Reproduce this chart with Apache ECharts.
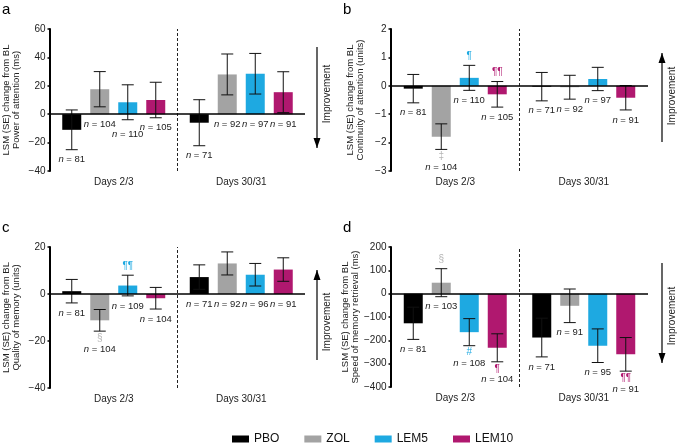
<!DOCTYPE html>
<html>
<head>
<meta charset="utf-8">
<script src="https://cdn.jsdelivr.net/npm/echarts@6/dist/echarts.min.js"></script>
<style>
html, body { margin: 0; padding: 0; background: #fff; }
#chart { width: 677px; height: 444px; }
</style>
</head>
<body>
<div id="chart"></div>
<script>
var groups = ['Days 2/3', 'Days 30/31'];
var treatments = ['PBO', 'ZOL', 'LEM5', 'LEM10'];
var colors = ['#000000', '#a3a3a3', '#1ea9e1', '#b0186f'];
var symColors = ['#000000', '#b4b4b4', '#1ea9e1', '#b0186f'];

// rows = treatment (PBO, ZOL, LEM5, LEM10), columns = group (Days 2/3, Days 30/31)
// a: power of attention
var aMean = [[-11, -6], [17.6, 28], [8.4, 28.5], [10, 15.5]];
var aSE = [[14, 16.2], [12.4, 14.4], [12.3, 14.3], [12.5, 14.4]];
var aN = [[81, 71], [104, 92], [110, 97], [105, 91]];
var aSym = [['', ''], ['', ''], ['', ''], ['', '']];
var aTicks = [-40, 60, 20];

// b: continuity of attention
var bMean = [[-0.1, -0.03], [-1.79, -0.05], [0.28, 0.24], [-0.3, -0.42]];
var bSE = [[0.5, 0.5], [0.45, 0.42], [0.44, 0.41], [0.45, 0.43]];
var bN = [[81, 71], [104, 92], [110, 97], [105, 91]];
var bSym = [['', ''], ['‡', ''], ['¶', ''], ['¶¶', '']];
var bTicks = [-3, 2, 1];

// c: quality of memory
var cMean = [[1.2, 7.2], [-11.2, 13], [3.6, 8.2], [-1.8, 10.4]];
var cSE = [[5, 5.2], [4.6, 4.9], [4.4, 4.8], [4.6, 5]];
var cN = [[81, 71], [104, 92], [109, 96], [104, 91]];
var cSym = [['', ''], ['§', ''], ['¶¶', ''], ['', '']];
var cTicks = [-40, 20, 20];

// d: speed of memory retrieval
var dMean = [[-127, -188], [47, -52], [-165, -223], [-232, -260]];
var dSE = [[69, 83], [60, 72], [58, 72], [60, 72]];
var dN = [[81, 71], [103, 91], [108, 95], [104, 91]];
var dSym = [['', ''], ['§', ''], ['#', ''], ['¶', '¶¶']];
var dTicks = [-400, 200, 100];

var FONT = '"Liberation Sans", Arial, Helvetica, sans-serif';
var BAR_W = 19, BAR_GAP = 9;

var panels = [
    { letter: 'a', name: 'LSM (SE) change from BL\nPower of attention (ms)', mean: aMean, se: aSE, n: aN, sym: aSym, ticks: aTicks, up: false,
      grid: { left: 50, top: 29, width: 255, height: 142 }, gap: 29, arrow: [317, 47, 148, 94] },
    { letter: 'b', name: 'LSM (SE) change from BL\nContinuity of attention (units)', mean: bMean, se: bSE, n: bN, sym: bSym, ticks: bTicks, up: true,
      grid: { left: 391, top: 29, width: 257, height: 142 }, gap: 26, arrow: [662, 53, 142, 96] },
    { letter: 'c', name: 'LSM (SE) change from BL\nQuality of memory (units)', mean: cMean, se: cSE, n: cN, sym: cSym, ticks: cTicks, up: true,
      grid: { left: 50, top: 247, width: 255, height: 141 }, gap: 29, arrow: [317, 270, 360, 322] },
    { letter: 'd', name: 'LSM (SE) change from BL\nSpeed of memory retrieval (ms)', mean: dMean, se: dSE, n: dN, sym: dSym, ticks: dTicks, up: false,
      grid: { left: 391, top: 247, width: 257, height: 140 }, gap: 26, arrow: [662, 263, 363, 316] }
];

var ctx = document.createElement('canvas').getContext('2d');
ctx.font = '9.5px ' + FONT;
function textW(s) { return ctx.measureText(s).width; }

function minus(v) { return String(v).replace('-', '\u2212'); }

// error bars, n labels and significance symbols
function makeRender(p) {
    var placed = [];
    return function (params, api) {
        var g = api.value(0), t = api.value(1), m = api.value(2), se = api.value(3);
        if (t === 0) placed = [];
        var n = p.n[t][g], sym = p.sym[t][g];
        var c0 = api.coord([g, 0]);
        var x = c0[0] + (t - 1.5) * (BAR_W + BAR_GAP);
        var yHi = api.coord([g, m + se])[1];
        var yLo = api.coord([g, m - se])[1];
        var y0 = c0[1];
        var cap = 6;
        var ls = { stroke: '#111', lineWidth: 1 };
        var kids = [
            { type: 'line', shape: { x1: x, y1: yHi, x2: x, y2: yLo }, style: ls },
            { type: 'line', shape: { x1: x - cap, y1: yHi, x2: x + cap, y2: yHi }, style: ls },
            { type: 'line', shape: { x1: x - cap, y1: yLo, x2: x + cap, y2: yLo }, style: ls }
        ];
        var anchor = Math.max(y0, yLo);
        var labelY = anchor + 10;
        if (sym) {
            var sy;
            if (m + se > 0) {
                sy = yHi - 9;
            } else {
                sy = anchor + 7;
                labelY = anchor + 18;
            }
            kids.push({ type: 'text', x: x, y: sy, style: {
                text: sym, fill: symColors[t], fontSize: 10, fontFamily: FONT,
                align: 'center', verticalAlign: 'middle' } });
        }
        var txt = 'n = ' + n;
        var w = textW(txt);
        var prev = placed[t - 1];
        var pushed = false;
        if (prev && !prev.pushed && Math.abs(prev.x - x) < (prev.w + w) / 2 && Math.abs(prev.y - labelY) < 10) {
            labelY = prev.y + 10;
            pushed = true;
        }
        placed[t] = { x: x, y: labelY, w: w, pushed: pushed };
        kids.push({ type: 'text', x: x, y: labelY, style: {
            text: '{i|n} = ' + n, fill: '#222', fontSize: 9.5, fontFamily: FONT,
            align: 'center', verticalAlign: 'middle',
            rich: { i: { fontStyle: 'italic', fontSize: 9.5, fontFamily: FONT, fill: '#222' } } } });
        return { type: 'group', children: kids };
    };
}

var grids = [], xAxes = [], yAxes = [], series = [], graphics = [];

panels.forEach(function (p, k) {
    grids.push(p.grid);
    xAxes.push({
        type: 'category', gridIndex: k, data: groups, boundaryGap: true,
        axisLine: { show: false, onZero: false }, axisTick: { show: false },
        axisLabel: { margin: 6, fontSize: 10, color: '#222', fontFamily: FONT }
    });
    xAxes.push({ type: 'value', gridIndex: k, min: 0, max: 2, show: false });
    yAxes.push({
        type: 'value', gridIndex: k, min: p.ticks[0], max: p.ticks[1], interval: p.ticks[2],
        name: p.name, nameLocation: 'middle', nameRotate: 90, nameGap: p.gap,
        nameTextStyle: { fontSize: 9.5, lineHeight: 10, color: '#222', fontFamily: FONT },
        axisLine: { show: true, lineStyle: { color: '#000', width: 2 } },
        axisTick: { show: true, length: 2.5, lineStyle: { color: '#000', width: 1.5 } },
        axisLabel: { margin: 4.5, fontSize: 10, color: '#222', fontFamily: FONT, formatter: minus },
        splitLine: { show: false }
    });

    treatments.forEach(function (tr, t) {
        series.push({
            name: tr, type: 'bar', xAxisIndex: 2 * k, yAxisIndex: k,
            data: p.mean[t], barWidth: BAR_W, barGap: (BAR_GAP / BAR_W * 100) + '%',
            itemStyle: { color: colors[t] }, silent: true, z: 2
        });
    });

    var errData = [];
    groups.forEach(function (gname, g) {
        treatments.forEach(function (tr, t) {
            errData.push([g, t, p.mean[t][g], p.se[t][g]]);
        });
    });
    series.push({
        type: 'custom', xAxisIndex: 2 * k, yAxisIndex: k, data: errData,
        renderItem: makeRender(p), silent: true, z: 4
    });

    // zero line and dashed divider between the two periods
    series.push({
        type: 'line', xAxisIndex: 2 * k + 1, yAxisIndex: k, data: [[1, 0]],
        symbol: 'none', silent: true, z: 5, lineStyle: { opacity: 0 },
        markLine: {
            silent: true, symbol: ['none', 'none'], label: { show: false },
            data: [
                { xAxis: 1, lineStyle: { type: [3, 2], width: 1, color: '#222' } },
                { yAxis: 0, lineStyle: { type: 'solid', width: 1.5, color: '#000' } }
            ]
        }
    });

    // panel letter
    var gr = p.grid;
    graphics.push({ type: 'text', x: gr.left - 48, y: gr.top - 27,
        style: { text: p.letter, fontSize: 15, fontFamily: FONT, fill: '#000' } });

    // improvement arrow
    var ax = p.arrow[0], top = p.arrow[1], bot = p.arrow[2];
    var headY = p.up ? top : bot;
    var dir = p.up ? 1 : -1;
    graphics.push({ type: 'line', shape: { x1: ax, y1: top, x2: ax, y2: bot }, style: { stroke: '#000', lineWidth: 1.2 } });
    graphics.push({ type: 'polygon', shape: { points: [[ax, headY], [ax - 3.5, headY + dir * 10], [ax + 3.5, headY + dir * 10]] },
        style: { fill: '#000' } });
    graphics.push({ type: 'text', x: ax + 10, y: p.arrow[3], rotation: Math.PI / 2,
        style: { text: 'Improvement', fontSize: 10, fontFamily: FONT, fill: '#222', align: 'center', verticalAlign: 'middle' } });
});

var chart = echarts.init(document.getElementById('chart'));
chart.setOption({
    animation: false,
    backgroundColor: '#fff',
    grid: grids,
    xAxis: xAxes,
    yAxis: yAxes,
    legend: {
        data: treatments, left: 227, top: 428, icon: 'rect',
        itemWidth: 17, itemHeight: 7, itemGap: 25,
        textStyle: { fontSize: 12, color: '#111', fontFamily: FONT },
        selectedMode: false
    },
    graphic: graphics,
    series: series
});
</script>
</body>
</html>
